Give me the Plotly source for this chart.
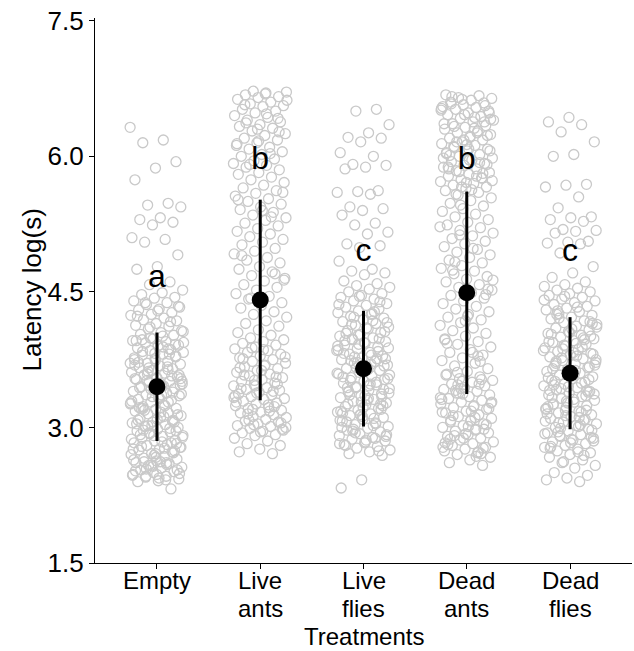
import plotly.graph_objects as go

categories = ["Empty", "Live", "Live", "Dead", "Dead"]
categories_line2 = ["", "ants", "flies", "ants", "flies"]
means = [3.45, 4.41, 3.65, 4.49, 3.60]
sds = [0.60, 1.11, 0.64, 1.12, 0.62]
letters = ["a", "b", "c", "b", "c"]
letter_y = [4.64, 5.95, 4.93, 5.95, 4.93]
y_ticks = [1.5, 3.0, 4.5, 6.0, 7.5]

empty_y = [
    6.32, 6.18, 6.15, 5.94, 5.87, 5.74, 5.48, 5.46, 5.44, 5.32, 5.30, 5.27, 5.24, 5.10, 5.08, 5.05, 4.91, 4.78, 4.75, 4.61, 4.58,
    4.52, 4.49, 4.47, 4.44, 4.43, 4.40, 4.38, 4.36, 4.33, 4.31, 4.30, 4.27, 4.25, 4.24, 4.21, 4.19, 4.18, 4.15, 4.13, 4.12, 4.09, 4.07, 4.05, 4.03, 4.02,
    3.98, 3.96, 3.95, 3.93, 3.91, 3.90, 3.88, 3.86, 3.85, 3.83, 3.81, 3.80, 3.78, 3.76, 3.75, 3.73, 3.71, 3.70, 3.68, 3.66,
    3.65, 3.63, 3.61, 3.60, 3.58, 3.56, 3.55, 3.53, 3.51, 3.50, 3.48, 3.46, 3.45, 3.43, 3.41, 3.40, 3.38, 3.36, 3.35, 3.33,
    3.31, 3.30, 3.28, 3.26, 3.25, 3.23, 3.21, 3.20, 3.18, 3.16, 3.15, 3.13, 3.11, 3.10, 3.08, 3.06, 3.05, 3.03, 3.01, 3.00,
    2.98, 2.96, 2.95, 2.93, 2.91, 2.90, 2.88, 2.86, 2.85, 2.83, 2.81, 2.80, 2.78, 2.76, 2.75, 2.73, 2.71, 2.70, 2.68, 2.66,
    2.65, 2.63, 2.61, 2.60, 2.58, 2.56, 2.55, 2.53, 2.51, 2.50, 2.48, 2.46, 2.45, 2.43, 2.41, 2.40, 2.32,
    3.99, 3.94, 3.89, 3.84, 3.79, 3.74, 3.69, 3.64, 3.59, 3.54, 3.49, 3.44, 3.39, 3.34, 3.29, 3.24, 3.19, 3.14, 3.09, 3.04,
    2.99, 2.94, 2.89, 2.84, 2.79, 2.74, 2.69, 2.64, 2.59, 2.54, 2.49, 2.44, 3.72, 3.57, 3.42, 3.27, 3.12, 2.97, 2.82, 2.67,
    2.52, 3.87, 3.62, 3.37, 3.17, 2.92, 2.72, 2.57, 2.47, 2.42,
    4.38, 4.34, 4.29, 4.23, 4.17, 4.11, 4.06, 4.01, 3.97, 3.92, 3.82, 3.77, 3.67, 3.52, 3.47, 3.32, 3.22, 3.07, 3.02, 2.87,
    2.77, 2.62, 2.53, 2.48, 3.96, 3.81, 3.66, 3.51, 3.36, 3.21, 3.06, 2.91, 2.76, 2.61, 2.46, 3.58, 3.33, 3.08, 2.83, 2.58,
    3.71, 3.46, 3.21, 2.96, 2.71, 3.54, 3.28, 3.02, 2.78, 2.62,
]

live_ants_y = [
    6.72, 6.71, 6.70, 6.68, 6.66, 6.65, 6.63, 6.60, 6.58, 6.56, 6.55, 6.52, 6.50, 6.48, 6.45, 6.43, 6.40, 6.38, 6.35, 6.33,
    6.31, 6.28, 6.25, 6.23, 6.20, 6.18, 6.15, 6.12, 6.10, 6.08, 6.05, 6.02, 6.00, 5.97, 5.95, 5.92, 5.90, 5.88, 5.85, 5.82,
    5.80, 5.77, 5.74, 5.71, 5.68, 5.65, 5.62, 5.59, 5.56, 5.53, 5.50, 5.47, 5.44, 5.41, 5.38, 5.35, 5.32, 5.29, 5.26, 5.23,
    5.20, 5.17, 5.14, 5.11, 5.08, 5.05, 5.02,
    4.98, 4.95, 4.92, 4.88, 4.85, 4.82, 4.78, 4.75, 4.72, 4.68, 4.65, 4.62, 4.58, 4.55, 4.52, 4.48, 4.45, 4.42, 4.38, 4.35,
    4.32, 4.28, 4.25, 4.22, 4.18, 4.15, 4.12, 4.08, 4.05, 4.02,
    3.99, 3.97, 3.95, 3.93, 3.91, 3.89, 3.87, 3.85, 3.83, 3.81, 3.79, 3.77, 3.75, 3.73, 3.71, 3.69, 3.67, 3.65, 3.63, 3.61,
    3.59, 3.57, 3.55, 3.53, 3.51,
    3.49, 3.47, 3.46, 3.44, 3.42, 3.41, 3.39, 3.37, 3.36, 3.34, 3.32, 3.31, 3.29, 3.27, 3.26, 3.24, 3.22, 3.21, 3.19, 3.17,
    3.16, 3.14, 3.12, 3.11, 3.09, 3.07, 3.06, 3.04, 3.02, 3.01, 2.99, 2.97, 2.96, 2.94, 2.92, 2.91,
    2.88, 2.85, 2.82, 2.80, 2.76, 2.73, 2.71,
    3.88, 3.78, 3.68, 3.58, 3.48, 3.38, 3.28, 3.18, 3.08, 2.98, 3.63, 3.43, 3.23, 3.03, 6.62, 6.47, 6.37, 6.27, 6.17, 5.52,
    5.33, 4.43, 4.63,
    3.86, 3.76, 3.56, 3.46, 3.35, 3.25, 3.15, 3.05, 2.95, 3.66, 3.40, 3.20, 3.00, 6.69, 6.57, 6.42, 6.30, 6.14, 6.03, 5.91,
    5.60, 5.40, 4.90, 4.70, 3.52, 3.33,
]

live_flies_y = [
    6.52, 6.50, 6.35, 6.26, 6.21, 6.20, 6.16, 6.04, 6.00, 5.91, 5.90, 5.88, 5.86, 5.62, 5.61, 5.60, 5.58, 5.44, 5.42, 5.40,
    5.35, 5.26, 5.24, 5.16, 5.14, 5.03, 5.01, 4.99, 4.84, 4.75, 4.73, 4.71, 4.69,
    4.62, 4.59, 4.57, 4.55, 4.53, 4.50, 4.48, 4.46, 4.44, 4.42, 4.40, 4.37, 4.35, 4.33, 4.31, 4.29, 4.27, 4.25, 4.23, 4.21,
    4.19, 4.17, 4.15, 4.13, 4.11, 4.09, 4.07, 4.05, 4.03, 4.01, 3.99, 3.97, 3.95, 3.93, 3.91, 3.89, 3.87, 3.85, 3.83, 3.81,
    3.79, 3.77, 3.75, 3.73, 3.71, 3.69, 3.67, 3.65, 3.63, 3.61, 3.59, 3.57, 3.55, 3.53, 3.51, 3.49, 3.47, 3.45, 3.43, 3.41,
    3.39, 3.37, 3.35, 3.33, 3.31, 3.29, 3.27, 3.25, 3.23, 3.21, 3.19, 3.17, 3.15, 3.13, 3.11, 3.09, 3.07, 3.05, 3.03, 3.01,
    2.99, 2.97, 2.95, 2.93, 2.91, 2.89, 2.87, 2.85, 2.83, 2.81, 2.79, 2.77, 2.75, 2.73, 2.71, 2.69, 2.42, 2.33,
    4.28, 4.22, 4.16, 4.10, 4.04, 3.98, 3.92, 3.86, 3.80, 3.74, 3.68, 3.62, 3.56, 3.50, 3.44, 3.38, 3.32, 3.26, 3.20, 3.14,
    3.08, 3.02, 2.96, 2.90, 2.84, 3.96, 3.84, 3.72, 3.60, 3.48, 3.36, 3.24, 3.12, 3.00, 2.88, 3.78, 3.54, 3.30, 3.06, 4.39,
    4.45, 4.36, 4.26, 4.14, 4.06, 3.94, 3.82, 3.76, 3.66, 3.58, 3.46, 3.40, 3.34, 3.28, 3.18, 3.10, 2.98, 2.92, 2.86, 2.80,
    2.74, 4.02, 3.90, 3.70, 3.52, 3.42, 3.22, 3.16, 3.04, 2.94, 3.88, 3.64, 3.44, 3.26, 3.14, 2.82, 4.18, 3.98, 3.76, 3.35,
]

dead_ants_y = [
    6.68, 6.67, 6.65, 6.64, 6.62, 6.60, 6.59, 6.57, 6.55, 6.54, 6.52, 6.50, 6.48, 6.46, 6.44, 6.42, 6.40, 6.38, 6.36, 6.34,
    6.32, 6.30, 6.28, 6.26, 6.24, 6.22, 6.20, 6.18, 6.16, 6.14, 6.12, 6.10, 6.08, 6.06, 6.04, 6.02, 6.00, 5.98, 5.96, 5.94,
    5.92, 5.90, 5.88, 5.86, 5.84, 5.82, 5.80, 5.78, 5.76, 5.74, 5.72, 5.70, 5.68, 5.66, 5.64, 5.62, 5.60, 5.57, 5.54, 5.51,
    5.48, 5.45, 5.42, 5.39, 5.36, 5.33, 5.30, 5.27, 5.24, 5.21, 5.18, 5.15, 5.12, 5.09, 5.06, 5.03, 5.00, 4.97, 4.94, 4.91,
    4.88, 4.85, 4.82, 4.79, 4.76, 4.73, 4.70, 4.67, 4.64, 4.61, 4.58, 4.55, 4.52, 4.49, 4.46, 4.43, 4.40, 4.37, 4.34, 4.31,
    4.28, 4.25, 4.22, 4.19, 4.16, 4.13, 4.10, 4.07, 4.04, 4.01, 3.98, 3.95, 3.92, 3.89, 3.86, 3.83, 3.80, 3.77, 3.74, 3.71,
    3.68, 3.65, 3.62, 3.59, 3.56, 3.54, 3.52, 3.50, 3.48, 3.46, 3.44, 3.42, 3.40, 3.38, 3.36, 3.34, 3.32, 3.30, 3.28, 3.26,
    3.24, 3.22, 3.20, 3.18, 3.16, 3.14, 3.12, 3.10, 3.08, 3.06, 3.04, 3.02, 3.00, 2.98, 2.96, 2.94, 2.92, 2.90, 2.88, 2.86,
    2.84, 2.82, 2.80, 2.78, 2.76, 2.74, 2.72, 2.70, 2.67, 2.64, 2.61, 2.58,
    6.63, 6.53, 6.43, 6.33, 6.23, 6.13, 6.03, 5.93, 5.83, 5.73, 5.63, 6.58, 6.38, 6.18, 5.98, 5.78, 5.58, 6.48, 6.08, 5.88,
    3.53, 3.43, 3.33, 3.23, 3.13, 3.03, 2.93, 2.83, 2.73, 3.47, 3.27, 3.07, 2.87, 2.77, 3.37, 3.17, 2.97, 4.83, 4.53, 4.23,
    3.93, 3.73, 5.13, 4.63, 3.83,
    6.66, 6.56, 6.46, 6.36, 6.26, 6.16, 6.06, 5.96, 5.86, 5.76, 5.66, 6.51, 6.31, 6.11, 5.91, 5.71, 3.58, 3.48, 3.38, 3.28,
    3.18, 3.08, 2.98, 2.88, 2.78, 2.68, 3.41, 3.21, 3.01, 2.81, 2.71, 5.46, 5.22, 4.98, 4.74, 4.47, 4.18, 3.97, 3.79, 3.61,
    6.41, 6.21, 6.01, 5.81, 3.51, 3.31, 3.11, 2.91,
]

dead_flies_y = [
    6.43, 6.38, 6.35, 6.27, 6.16, 6.02, 6.00, 5.69, 5.68, 5.66, 5.55, 5.43, 5.33, 5.32, 5.30, 5.28, 5.19, 5.18, 5.17, 5.15,
    5.06, 5.05, 5.04, 5.03, 4.93, 4.78, 4.71, 4.66, 4.61,
    4.58, 4.56, 4.54, 4.52, 4.50, 4.48, 4.46, 4.44, 4.42, 4.40, 4.38, 4.36, 4.34, 4.32, 4.30, 4.28, 4.26, 4.24, 4.22, 4.20,
    4.18, 4.16, 4.14, 4.12, 4.10, 4.08, 4.06, 4.04, 4.02, 4.00, 3.98, 3.96, 3.94, 3.92, 3.90, 3.88, 3.86, 3.84, 3.82, 3.80,
    3.78, 3.76, 3.74, 3.72, 3.70, 3.68, 3.66, 3.64, 3.62, 3.60, 3.58, 3.56, 3.54, 3.52, 3.50, 3.48, 3.46, 3.44, 3.42, 3.40,
    3.38, 3.36, 3.34, 3.32, 3.30, 3.28, 3.26, 3.24, 3.22, 3.20, 3.18, 3.16, 3.14, 3.12, 3.10, 3.08, 3.06, 3.04, 3.02, 3.00,
    2.98, 2.96, 2.94, 2.92, 2.90, 2.88, 2.86, 2.84, 2.82, 2.80, 2.78, 2.76, 2.74, 2.72, 2.70, 2.67, 2.64, 2.61, 2.58, 2.55,
    2.50, 2.47, 2.44, 2.42, 2.40,
    4.21, 4.15, 4.09, 4.03, 3.97, 3.91, 3.85, 3.79, 3.73, 3.67, 3.61, 3.55, 3.49, 3.43, 3.37, 3.31, 3.25, 3.19, 3.13, 3.07,
    3.01, 2.95, 2.89, 2.83, 2.77, 3.99, 3.87, 3.75, 3.63, 3.51, 3.39, 3.27, 3.15, 3.03, 2.91, 3.81, 3.57, 3.33, 3.09, 4.45,
    4.41, 4.33, 4.25, 4.17, 4.05, 3.95, 3.89, 3.77, 3.69, 3.59, 3.47, 3.41, 3.29, 3.21, 3.11, 3.05, 2.97, 2.87, 2.79, 2.69,
    2.62, 4.11, 3.93, 3.71, 3.53, 3.45, 3.23, 3.17, 2.99, 2.85, 3.83, 3.65, 3.35, 3.19, 2.93, 2.73, 4.29, 4.01, 3.63, 3.41,
]

groups_y = [empty_y, live_ants_y, live_flies_y, dead_ants_y, dead_flies_y]

FONT = "Liberation Sans, Arial, Helvetica, sans-serif"
GOLD = 0.6180339887
JITTER = 0.26
FS = 26
FSX = 24

fig = go.Figure()

for gi, ys in enumerate(groups_y):
    xs = [gi + 1 + (((i * GOLD + gi * 0.37) % 1.0) - 0.5) * 2 * JITTER for i in range(len(ys))]
    fig.add_trace(go.Scatter(
        x=xs, y=ys, mode="markers",
        marker=dict(symbol="circle-open", size=10, color="#c9c9c9", line=dict(width=1.3, color="#c9c9c9")),
        hoverinfo="skip", showlegend=False,
    ))

xpos = list(range(1, len(categories) + 1))
fig.add_trace(go.Scatter(
    x=xpos, y=means, mode="markers",
    marker=dict(size=17, color="black"),
    error_y=dict(type="data", array=sds, visible=True, color="black", thickness=3, width=0),
    showlegend=False,
))

fig.add_trace(go.Scatter(
    x=xpos, y=letter_y, mode="text", text=letters,
    textposition="middle center",
    textfont=dict(family=FONT, size=32, color="black"),
    showlegend=False, hoverinfo="skip",
))

annotations = []
for xv, w1, w2 in zip(xpos, categories, categories_line2):
    annotations.append(dict(
        x=xv, xref="x", y=0, yref="paper", text=w1, showarrow=False,
        xanchor="center", yanchor="middle", yshift=-17, borderpad=0,
        font=dict(family=FONT, size=FSX, color="black"),
    ))
    if w2:
        annotations.append(dict(
            x=xv, xref="x", y=0, yref="paper", text=w2, showarrow=False,
            xanchor="center", yanchor="middle", yshift=-45, borderpad=0,
            font=dict(family=FONT, size=FSX, color="black"),
        ))
annotations.append(dict(
    x=0.5, xref="paper", y=0, yref="paper", text="Treatments", showarrow=False,
    xanchor="center", yanchor="middle", yshift=-73, borderpad=0,
    font=dict(family=FONT, size=FSX, color="black"),
))
annotations.append(dict(
    x=0, xref="paper", y=0.5, yref="paper", text="Latency log(s)", showarrow=False,
    xanchor="center", yanchor="middle", xshift=-64, textangle=-90,
    font=dict(family=FONT, size=FS, color="black"),
))

fig.update_layout(
    width=634, height=651,
    margin=dict(l=95, r=2, t=18, b=88),
    plot_bgcolor="white", paper_bgcolor="white",
    font=dict(family=FONT, size=FS, color="black"),
    showlegend=False,
    annotations=annotations,
)
fig.update_xaxes(
    range=[0.4, 5.6], tickmode="array", tickvals=xpos, showticklabels=False,
    showline=True, linecolor="black", linewidth=1.2, ticks="outside", ticklen=5, tickcolor="black",
    showgrid=False, zeroline=False, automargin=False,
)
fig.update_yaxes(
    range=[1.5, 7.53], tickmode="array", tickvals=y_ticks, ticktext=[f"{v:.1f}" for v in y_ticks],
    showline=True, linecolor="black", linewidth=1.2, ticks="outside", ticklen=5, tickcolor="black",
    showgrid=False, zeroline=False, tickfont=dict(size=FS, color="black"), automargin=False,
)

fig.write_html(
    "out.html",
    config={"displayModeBar": False},
    post_script="document.body.style.margin='0';document.body.style.padding='0';",
)
